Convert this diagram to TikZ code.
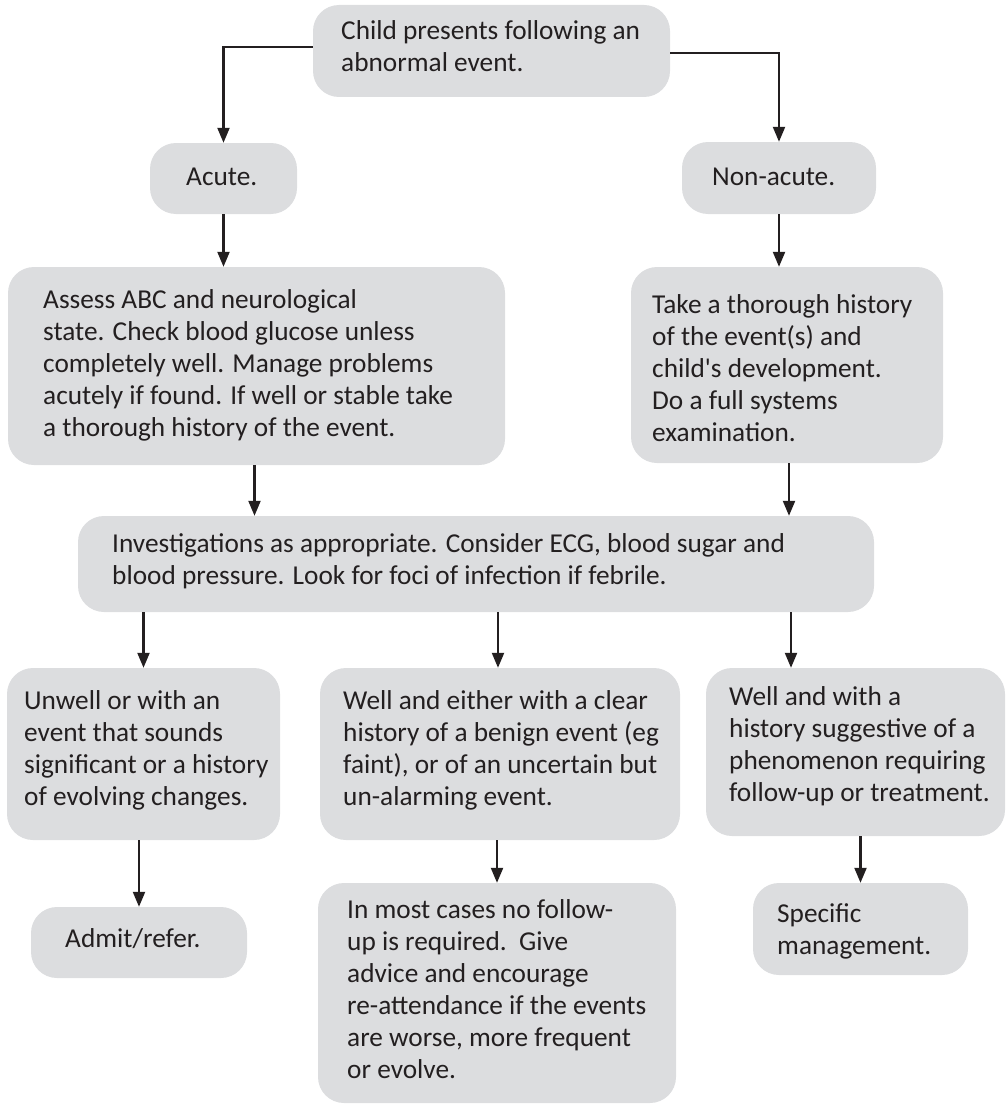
\documentclass[tikz,border=0pt]{standalone}
\usepackage{fontspec}
\setmainfont{Carlito}[Ligatures=TeXOff]
\usetikzlibrary{arrows.meta}
\definecolor{boxfill}{HTML}{DCDDDF}
\definecolor{ink}{HTML}{231F20}
\begin{document}
\begin{tikzpicture}[x=1pt,y=-1pt,
  box/.style={fill=boxfill, draw=none, rounded corners=26pt, inner sep=0pt},
  % texts are anchored at the baseline of their last line
  txt/.style={anchor=base west, align=left, inner sep=0pt, text=ink,
              font=\fontsize{27.3}{32}\selectfont},
  arr/.style={draw=ink, line width=2.2pt, -{Triangle[length=15pt,width=12pt]}}]
\useasboundingbox (0,0) rectangle (1005,1105);

% boxes
\node[box, minimum width=357, minimum height=92]  (top)      at (491.5,51)  {};
\node[box, minimum width=147, minimum height=71]  (acute)    at (223.5,178.5) {};
\node[box, minimum width=194, minimum height=72]  (nonacute) at (779,178)   {};
\node[box, minimum width=497, minimum height=198] (assess)   at (256.5,366) {};
\node[box, minimum width=312, minimum height=196] (take)     at (787,365)   {};
\node[box, minimum width=796, minimum height=96]  (invest)   at (476,564)   {};
\node[box, minimum width=273, minimum height=172] (unwell)   at (143.5,754) {};
\node[box, minimum width=360, minimum height=172] (welle)    at (500,754)   {};
\node[box, minimum width=299, minimum height=168] (wellw)    at (855.5,752) {};
\node[box, minimum width=216, minimum height=71]  (admit)    at (139,942.5) {};
\node[box, minimum width=358, minimum height=220] (most)     at (497,993)   {};
\node[box, minimum width=215, minimum height=92]  (specific) at (860.5,929) {};

% texts
\node[txt] (ttop) at (341,72) {Child presents following an\\abnormal event.};
\node[txt] (tacute) at (186,185) {Acute.};
\node[txt] (tnonacute) at (712,185) {Non-acute.};
\node[txt] (tassess) at (43,436) {Assess ABC and neurological\\state. Check blood glucose unless\\completely well. Manage problems\\acutely if found. If well or stable take\\a thorough history of the event.};
\node[txt] (ttake) at (652,441) {Take a thorough history\\of the event(s) and\\child's development.\\Do a full systems\\examination.};
\node[txt] (tinvest) at (112,584) {Investigations as appropriate. Consider ECG, blood sugar and\\blood pressure. Look for foci of infection if febrile.};
\node[txt] (tunwell) at (24,805) {Unwell or with an\\event that sounds\\significant or a history\\of evolving changes.};
\node[txt] (twelle) at (343,805) {Well and either with a clear\\history of a benign event (eg\\faint), or of an uncertain but\\un-alarming event.};
\node[txt] (twellw) at (729,801) {Well and with a\\history suggestive of a\\phenomenon requiring\\follow-up or treatment.};
\node[txt] (tadmit) at (65,947) {Admit/refer.};
\node[txt] (tmost) at (347,1078) {In most cases no follow-\\up is required.\ \ Give\\advice and encourage\\re-attendance if the events\\are worse, more frequent\\or evolve.};
\node[txt] (tspecific) at (777,954) {Specific\\management.};

% connectors
\draw[arr] ([yshift=4pt]top.west) -| (acute.north);
\draw[arr] ([yshift=-2pt]top.east) -| (nonacute.north);
\draw[arr] (acute.south) -- (acute.south |- assess.north);
\draw[arr] (nonacute.south) -- (nonacute.south |- take.north);
\draw[arr] ([xshift=-2pt]assess.south) -- ([xshift=-2pt]assess.south |- invest.north);
\draw[arr] ([xshift=2pt]take.south) -- ([xshift=2pt]take.south |- invest.north);
\draw[arr] (unwell.north |- invest.south) -- (unwell.north);
\draw[arr] ([xshift=-2pt]welle.north |- invest.south) -- ([xshift=-2pt]welle.north);
\draw[arr] ([xshift=4pt]take.south |- invest.south) -- ([xshift=4pt]take.south |- wellw.north);
\draw[arr] (admit.north |- unwell.south) -- (admit.north);
\draw[arr] (most.north |- welle.south) -- (most.north);
\draw[arr] (specific.north |- wellw.south) -- (specific.north);
\end{tikzpicture}
\end{document}
